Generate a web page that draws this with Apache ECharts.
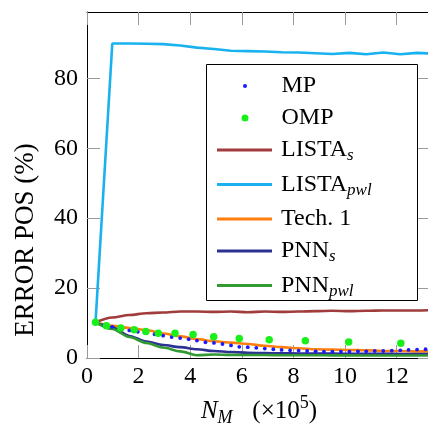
<!DOCTYPE html>
<html>
<head>
<meta charset="utf-8">
<script src="https://cdn.jsdelivr.net/npm/echarts@6/dist/echarts.min.js"></script>
<style>
html,body{margin:0;padding:0;background:#fff;}
#chart{width:428px;height:425px;}
</style>
</head>
<body>
<div id="chart"></div>
<script>
// ---- data ----
const xTicks = [0, 2, 4, 6, 8, 10, 12];
const yTicks = [0, 20, 40, 60, 80];

// MP samples
const mpX = [0.33, 0.66, 0.98, 1.31, 1.64, 1.97, 2.30, 2.62, 2.95, 3.28, 3.61, 3.94, 4.26, 4.59, 4.92,
  5.25, 5.58, 5.90, 6.23, 6.56, 6.89, 7.22, 7.54, 7.87, 8.20, 8.53, 8.86, 9.18, 9.51, 9.84,
  10.17, 10.50, 10.82, 11.15, 11.48, 11.81, 12.14, 12.46, 12.79, 13.12, 13.45];
const mpY = [10.2, 9.5, 8.9, 8.4, 7.9, 7.5, 7.1, 6.8, 6.4, 6.0, 5.7, 5.4, 5.0, 4.5, 4.3,
  4.0, 3.6, 3.2, 3.1, 2.9, 2.7, 2.5, 2.3, 2.2, 2.1, 2.0, 1.9, 1.8, 1.8, 1.8,
  1.8, 1.9, 1.9, 2.0, 2.0, 2.1, 2.2, 2.3, 2.4, 2.5, 2.5];

// OMP samples
const ompX = [0.33, 0.75, 1.31, 1.83, 2.28, 2.76, 3.41, 4.11, 4.91, 5.90, 7.06, 8.46, 10.14, 12.16];
const ompY = [10.2, 9.2, 8.6, 8.1, 7.6, 7.1, 7.1, 6.7, 6.1, 5.6, 5.2, 4.9, 4.6, 4.2];

// line series samples
const lineX = [0.33, 0.98, 1.64, 2.30, 2.95, 3.61, 4.26, 4.92, 5.58, 6.23, 6.89,
  7.54, 8.20, 8.86, 9.51, 10.17, 10.82, 11.48, 12.14, 12.79, 13.45];
const listaS = [10.2, 11.6, 12.3, 12.8, 13.0, 13.3, 13.3, 13.2, 13.3, 13.1, 13.3,
  13.2, 13.3, 13.4, 13.5, 13.4, 13.5, 13.6, 13.6, 13.6, 13.7];
const listaPwl = [10.2, 90.0, 90.0, 89.9, 89.8, 89.4, 88.8, 88.4, 87.9, 87.8, 87.7,
  87.5, 87.4, 87.2, 87.0, 87.3, 86.9, 87.4, 86.9, 87.3, 87.1];
const tech1 = [10.2, 9.2, 8.6, 8.0, 7.0, 6.2, 5.4, 4.8, 4.4, 4.0, 3.5,
  3.1, 2.8, 2.5, 2.4, 2.3, 2.2, 2.0, 2.0, 1.9, 1.9];
const pnnS = [10.2, 8.8, 6.3, 4.7, 3.7, 3.1, 2.5, 2.0, 1.7, 1.5, 1.4,
  1.35, 1.3, 1.3, 1.25, 1.2, 1.2, 1.2, 1.15, 1.1, 1.1];
const pnnPwl = [10.2, 8.3, 6.0, 4.3, 3.0, 1.9, 0.8, 1.0, 0.9, 0.85, 0.85,
  0.8, 0.8, 0.8, 0.75, 0.75, 0.7, 0.7, 0.7, 0.7, 0.7];

const seriesNames = ['MP', 'OMP', 'LISTA_s', 'LISTA_pwl', 'Tech. 1', 'PNN_s', 'PNN_pwl'];
const seriesColors = ['#1a1aff', '#19f019', '#a03c3c', '#1ab2ee', '#ff7f0e', '#2d3191', '#339933'];

// ---- chart ----
const FONT = 'Liberation Serif';
const FS = 24;
const zip = (xs, ys) => xs.map((x, i) => [x, ys[i]]);
const chart = echarts.init(document.getElementById('chart'), null, {renderer: 'canvas'});

const subStyle = {fontFamily: FONT, fontSize: 17, fontStyle: 'italic', color: '#000', lineHeight: 17, padding: [6, 0, -6, 0]};
const richText = {
  fontFamily: FONT, fontSize: FS, color: '#000', lineHeight: 24,
  rich: {sub: subStyle}
};
const legendFormatter = function (name) {
  const p = name.split('_');
  return p.length > 1 ? p[0] + '{sub|' + p[1] + '}' : name;
};

const tickStyle = {show: true, inside: true, length: 13, lineStyle: {color: '#9a9a9a', width: 1}};

function xAx(pos, showLabel) {
  return {
    type: 'value', position: pos, min: 0, max: 13.33, interval: 2,
    axisLine: {show: true, onZero: false, lineStyle: {color: '#000', width: 1}},
    axisTick: Object.assign({}, tickStyle, {customValues: xTicks}),
    axisLabel: {show: showLabel, customValues: xTicks, fontFamily: FONT, fontSize: FS, color: '#000', margin: 7},
    splitLine: {show: false}
  };
}
function yAx(pos, showLabel) {
  return {
    type: 'value', position: pos, min: 0, max: 99, interval: 20,
    axisLine: {show: true, onZero: false, lineStyle: {color: '#000', width: 1}},
    axisTick: Object.assign({}, tickStyle, {customValues: yTicks}),
    axisLabel: {show: showLabel, customValues: yTicks, fontFamily: FONT, fontSize: FS, color: '#000', margin: 9},
    splitLine: {show: false}
  };
}

const xa0 = xAx('bottom', true);
xa0.name = '{i|N}{sub|M}{r|   (×10}{sup|5}{r|)}';
xa0.nameLocation = 'middle';
xa0.nameGap = 40;
xa0.nameTextStyle = {
  fontFamily: FONT, fontSize: 25, color: '#000',
  rich: {
    i: {fontFamily: FONT, fontSize: 25, fontStyle: 'italic', color: '#000', lineHeight: 26},
    r: {fontFamily: FONT, fontSize: 25, color: '#000', lineHeight: 26},
    sub: {fontFamily: FONT, fontSize: 18, fontStyle: 'italic', color: '#000', lineHeight: 18, padding: [7, 1, -7, 0]},
    sup: {fontFamily: FONT, fontSize: 18, color: '#000', lineHeight: 18, padding: [-8, 0, 8, 0]}
  }
};

function lineSeries(idx, ys, smooth) {
  return {
    name: seriesNames[idx], type: 'line', xAxisIndex: 0, yAxisIndex: 0,
    data: zip(lineX, ys), symbol: 'none', smooth: smooth, smoothMonotone: 'x',
    lineStyle: {color: seriesColors[idx], width: 2.6}, itemStyle: {color: seriesColors[idx]},
    z: 2 + idx, animation: false
  };
}

function legendCommon() {
  return {
    orient: 'vertical', padding: 0, itemGap: 8, itemWidth: 55, z: 20,
    selectedMode: false,
    formatter: legendFormatter,
    textStyle: Object.assign({padding: [0, 0, 0, 4]}, richText)
  };
}

const option = {
  animation: false,
  backgroundColor: '#fff',
  grid: {left: 87, right: -3, top: 12, bottom: 67, containLabel: false, outerBoundsMode: 'none'},
  xAxis: [xa0, xAx('top', false)],
  yAxis: [yAx('left', true), yAx('right', false)],
  legend: [
    Object.assign(legendCommon(), {data: [{name: 'MP', icon: 'circle'}], left: 243, top: 74, itemHeight: 4}),
    Object.assign(legendCommon(), {data: [{name: 'OMP', icon: 'circle'}], left: 241.5, top: 106, itemHeight: 7}),
    Object.assign(legendCommon(), {
      data: ['LISTA_s', 'LISTA_pwl', 'Tech. 1', 'PNN_s', 'PNN_pwl'].map(n => ({name: n, icon: 'rect'})),
      left: 217, top: 138, itemHeight: 3
    })
  ],
  graphic: [
    {type: 'rect', left: 206, top: 64, z: 8, shape: {x: 0, y: 0, width: 211, height: 236},
      style: {fill: '#fff', stroke: '#000', lineWidth: 1}},
    {type: 'text', x: 26, y: 240, rotation: Math.PI / 2, z: 10,
      style: {text: 'ERROR POS (%)', fontFamily: FONT, fontSize: 27, fill: '#000', align: 'center', verticalAlign: 'middle'}}
  ],
  series: [
    lineSeries(2, listaS, 0.3),
    lineSeries(3, listaPwl, false),
    lineSeries(4, tech1, 0.3),
    lineSeries(5, pnnS, 0.3),
    lineSeries(6, pnnPwl, 0.3),
    {name: 'MP', type: 'scatter', data: zip(mpX, mpY), symbol: 'circle', symbolSize: 3.8,
      itemStyle: {color: seriesColors[0], opacity: 1}, z: 9},
    {name: 'OMP', type: 'scatter', data: zip(ompX, ompY), symbol: 'circle', symbolSize: 7.5,
      itemStyle: {color: seriesColors[1], opacity: 1}, z: 10}
  ]
};
chart.setOption(option);
</script>
</body>
</html>
